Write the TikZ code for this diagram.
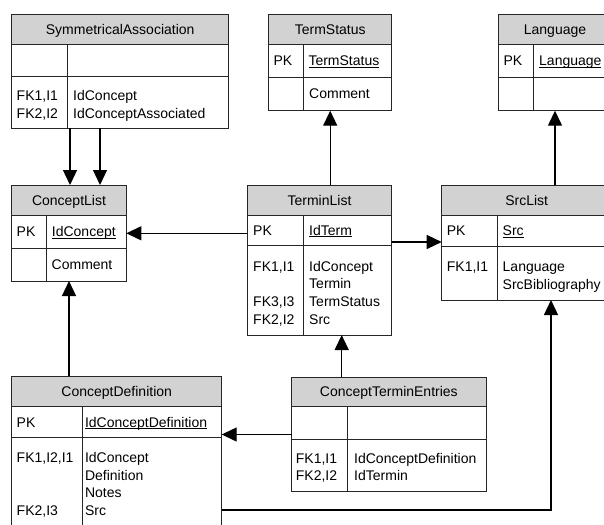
\documentclass[tikz,border=0pt]{standalone}
\usepackage{fontspec}
\setmainfont{Liberation Sans}
\usetikzlibrary{arrows.meta,calc,fit}
\definecolor{hdrgray}{RGB}{210,210,210}
\newcommand\pkul[1]{\setbox0\hbox{#1}\rlap{\rule[-2.2pt]{\wd0}{0.8pt}}\box0}
\newcommand\ertable[9]{%
 \fill[hdrgray] (#2,#3) rectangle (#4,#6);
 \node[tblbox, fit={(#2,#3) (#4,#5)}] (#1) {};
 \draw[tblline] (#2,#6) -- (#4,#6) (#2,#7) -- (#4,#7) (#8,#6) -- (#8,#5);
 \node[hdrtext] (#1-title) at ({(#2+#4)/2},{#6-10}) {#9};
}
\tikzset{
 tblbox/.style={draw=black!85, line width=0.9pt, inner sep=0pt, outer sep=0pt},
 tblline/.style={draw=black!85, line width=0.9pt},
 hdrtext/.style={anchor=base, inner sep=0pt, font=\fontsize{14}{17}\selectfont},
 txt/.style={anchor=base west, inner sep=0pt, font=\fontsize{14}{17}\selectfont},
 conn/.style={line width=1.3pt, -{Triangle[length=15pt,width=14pt]}},
}
\begin{document}
\begin{tikzpicture}[x=1pt,y=-1pt]
\useasboundingbox (0,0) rectangle (604,524);
\clip (0,0) rectangle (604,524);
\fill[white] (0,0) rectangle (604,524);

\ertable{sa}{11.7}{14}{228.7}{128.3}{44.3}{76}{67.7}{SymmetricalAssociation}
\ertable{ts}{268.7}{14}{391.7}{110.7}{44.3}{77.3}{303.3}{TermStatus}
\ertable{lg}{498.3}{14}{611.7}{110.7}{44.3}{77.3}{533.7}{Language}
\ertable{cl}{11.7}{185}{126.3}{281}{215}{248.3}{46.7}{ConceptList}
\ertable{tl}{247.3}{185}{391.7}{335}{215}{245}{303.3}{TerminList}
\ertable{sl}{441.7}{185}{611.7}{300}{215}{246.7}{497.7}{SrcList}
\ertable{cd}{11.7}{376}{221.7}{545}{406.7}{437.3}{82.7}{ConceptDefinition}
\ertable{ce}{291.7}{377}{486}{491.7}{406.7}{439}{347.7}{ConceptTerminEntries}

% SymmetricalAssociation
\node[txt] (sa-k1) at (16.5,100) {FK1,I1};
\node[txt] (sa-k2) at (16.5,118.3) {FK2,I2};
\node[txt] (sa-f1) at (73,100) {IdConcept};
\node[txt] (sa-f2) at (73,118.3) {IdConceptAssociated};
% TermStatus
\node[txt] (ts-pk) at (273.3,65.8) {PK};
\node[txt] (ts-id) at (308.3,65.8) {\pkul{TermStatus}};
\node[txt] (ts-f1) at (309,99) {Comment};
% Language
\node[txt] (lg-pk) at (503.3,65.8) {PK};
\node[txt] (lg-id) at (539,65.8) {\pkul{Language}};
% ConceptList
\node[txt] (cl-pk) at (16.5,236.6) {PK};
\node[txt] (cl-id) at (51.7,236.6) {\pkul{IdConcept}};
\node[txt] (cl-f1) at (51.5,269.6) {Comment};
% TerminList
\node[txt] (tl-pk) at (253,235) {PK};
\node[txt] (tl-id) at (309,235) {\pkul{IdTerm}};
\node[txt] (tl-k1) at (253,271) {FK1,I1};
\node[txt] (tl-k3) at (253,306.7) {FK3,I3};
\node[txt] (tl-k2) at (253,324.3) {FK2,I2};
\node[txt] (tl-f1) at (309,271) {IdConcept};
\node[txt] (tl-f2) at (309,288.7) {Termin};
\node[txt] (tl-f3) at (309,306.7) {TermStatus};
\node[txt] (tl-f4) at (309,324.3) {Src};
% SrcList
\node[txt] (sl-pk) at (446.7,235.8) {PK};
\node[txt] (sl-id) at (502.5,235.8) {\pkul{Src}};
\node[txt] (sl-k1) at (446.7,271.7) {FK1,I1};
\node[txt] (sl-f1) at (502.5,271.7) {Language};
\node[txt] (sl-f2) at (502.5,289.3) {SrcBibliography};
% ConceptDefinition
\node[txt] (cd-pk) at (16.5,427) {PK};
\node[txt] (cd-id) at (84.8,427) {\pkul{IdConceptDefinition}};
\node[txt] (cd-k1) at (16.5,462.5) {FK1,I2,I1};
\node[txt] (cd-k2) at (16.5,515) {FK2,I3};
\node[txt] (cd-f1) at (84.8,462.5) {IdConcept};
\node[txt] (cd-f2) at (84.8,480) {Definition};
\node[txt] (cd-f3) at (84.8,497.5) {Notes};
\node[txt] (cd-f4) at (84.8,515) {Src};
% ConceptTerminEntries
\node[txt] (ce-k1) at (295.7,463.3) {FK1,I1};
\node[txt] (ce-k2) at (295.7,480.7) {FK2,I2};
\node[txt] (ce-f1) at (354,463.3) {IdConceptDefinition};
\node[txt] (ce-f2) at (354,480.7) {IdTermin};

% connectors
\draw[conn] ($(sa.south west)+(58.3,0)$) -- ($(cl.north west)+(58.3,0)$);
\draw[conn] ($(sa.south west)+(88.3,0)$) -- ($(cl.north west)+(88.3,0)$);
\path ($(tl.north west)+(0,48.3)$) coordinate (c2);
\draw[conn] (c2) -- (c2 -| cl.east);
\draw[conn] (tl.north -| ts.south) -- (ts.south);
\path ($(tl.north east)+(0,57)$) coordinate (c4);
\draw[conn] (c4) -- (c4 -| sl.west);
\draw[conn] (sl.north -| lg.south) -- (lg.south);
\draw[conn] (cd.north -| cl.south) -- (cl.south);
\path ($(ce.north west)+(50,0)$) coordinate (c7);
\draw[conn] (c7) -- (c7 |- tl.south);
\path ($(ce.north west)+(0,57.5)$) coordinate (c8);
\draw[conn] (c8) -- (c8 -| cd.east);
\path ($(cd.north east)+(0,134)$) coordinate (c9);
\path ($(sl.south west)+(109.3,0)$) coordinate (c9t);
\draw[conn] (c9) -- (c9 -| c9t) -- (c9t);
\end{tikzpicture}
\end{document}
